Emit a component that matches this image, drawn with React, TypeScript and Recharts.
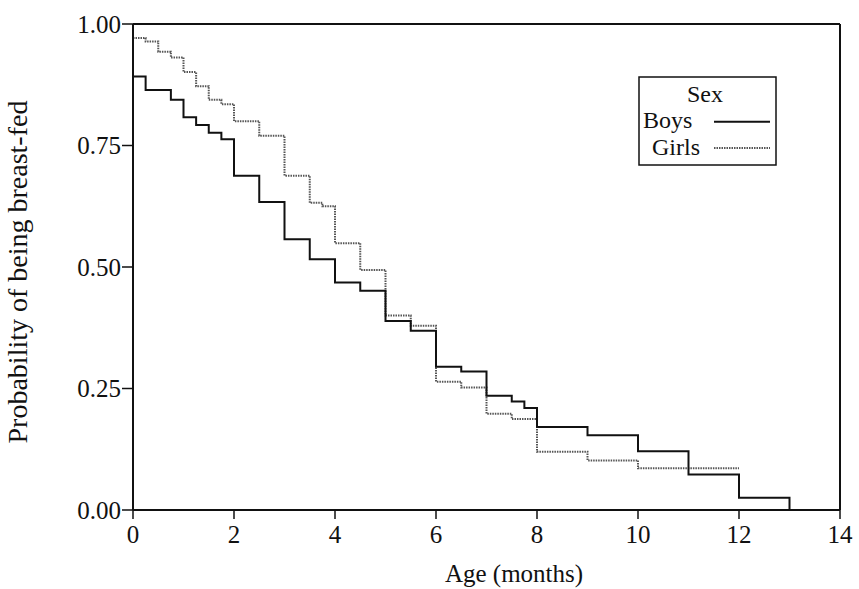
import React from "react";
import { LineChart, Line, XAxis, YAxis, ReferenceLine } from "recharts";

// ── Data (Kaplan–Meier style step curves) ──
const boysMonths = [0, 0.25, 0.75, 1, 1.25, 1.5, 1.75, 2, 2.5, 3, 3.5, 4, 4.5, 5, 5.5, 6, 6.5, 7, 7.5, 7.75, 8, 9, 10, 11, 12, 13];
const boysProb = [0.892, 0.864, 0.844, 0.808, 0.792, 0.776, 0.763, 0.688, 0.634, 0.557, 0.516, 0.468, 0.451, 0.389, 0.369, 0.295, 0.285, 0.235, 0.223, 0.21, 0.171, 0.154, 0.121, 0.073, 0.025, 0];

const girlsMonths = [0, 0.25, 0.5, 0.75, 1, 1.25, 1.5, 1.75, 2, 2.5, 3, 3.5, 3.75, 4, 4.5, 5, 5.5, 6, 6.5, 7, 7.5, 8, 9, 10, 12];
const girlsProb = [0.971, 0.964, 0.943, 0.931, 0.901, 0.872, 0.844, 0.835, 0.8, 0.77, 0.688, 0.632, 0.625, 0.549, 0.494, 0.4, 0.379, 0.264, 0.252, 0.198, 0.187, 0.12, 0.102, 0.086, 0.086];

const xTicks = [0, 2, 4, 6, 8, 10, 12, 14];
const yTicks = [0, 0.25, 0.5, 0.75, 1];

const boysData = boysMonths.map((m, i) => ({ month: m, prob: boysProb[i] }));
const girlsData = girlsMonths.map((m, i) => ({ month: m, prob: girlsProb[i] }));

const FONT = "Liberation Serif, Tinos, Times New Roman, serif";
const INK = "#111";
const GIRLS_COLOR = "#555";
const serif = { fontFamily: FONT };

function Legend() {
  return (
    <svg
      width={140}
      height={92}
      style={{ position: "absolute", left: 638, top: 76, overflow: "visible", ...serif }}
    >
      <rect x={1} y={1} width={137} height={88} fill="#fff" stroke={INK} strokeWidth={1.5} />
      <text x={67} y={26} textAnchor="middle" fontSize={24} fill={INK} style={serif}>
        Sex
      </text>
      <text x={5} y={52} fontSize={24} fill={INK} style={serif}>
        Boys
      </text>
      <line x1={76} x2={132} y1={45.7} y2={45.7} stroke={INK} strokeWidth={2} />
      <text x={14} y={79} fontSize={24} fill={INK} style={serif}>
        Girls
      </text>
      <line x1={76} x2={132} y1={72} y2={72} stroke={GIRLS_COLOR} strokeWidth={2} strokeDasharray="1.5 1" />
    </svg>
  );
}

export default function App() {
  return (
    <div style={{ position: "fixed", left: 0, top: 0, width: 859, height: 589, background: "#fff", ...serif }}>
      <LineChart width={859} height={589} margin={{ top: 24, right: 19, left: 0, bottom: 0 }} style={serif}>
        <XAxis
          type="number"
          dataKey="month"
          domain={[0, 14]}
          ticks={xTicks}
          height={79}
          tickSize={9}
          tickMargin={6}
          tick={{ fontSize: 25, fill: INK, style: serif }}
          axisLine={{ stroke: INK, strokeWidth: 2 }}
          tickLine={{ stroke: INK, strokeWidth: 1.5 }}
          allowDuplicatedCategory={false}
          label={{
            content: () => (
              <text x={514} y={582} textAnchor="middle" fontSize={25} fill={INK} style={serif}>
                Age (months)
              </text>
            ),
          }}
        />
        <YAxis
          type="number"
          domain={[0, 1]}
          ticks={yTicks}
          width={133}
          tickSize={11}
          tickMargin={1}
          tickFormatter={(v: number) => v.toFixed(2)}
          tick={{ fontSize: 25, fill: INK, style: serif }}
          axisLine={{ stroke: INK, strokeWidth: 2 }}
          tickLine={{ stroke: INK, strokeWidth: 1.5 }}
          label={{
            content: () => (
              <text
                x={27}
                y={272}
                transform="rotate(-90, 27, 272)"
                textAnchor="middle"
                fontSize={28}
                fill={INK}
                style={serif}
              >
                Probability of being breast-fed
              </text>
            ),
          }}
        />
        <ReferenceLine y={1} stroke={INK} strokeWidth={2} />
        <ReferenceLine x={14} stroke={INK} strokeWidth={2} />
        <Line
          data={girlsData}
          dataKey="prob"
          type="stepAfter"
          stroke={GIRLS_COLOR}
          strokeWidth={2}
          strokeDasharray="1.5 1"
          dot={false}
          isAnimationActive={false}
        />
        <Line
          data={boysData}
          dataKey="prob"
          type="stepAfter"
          stroke={INK}
          strokeWidth={2}
          dot={false}
          isAnimationActive={false}
        />
      </LineChart>
      <Legend />
    </div>
  );
}
